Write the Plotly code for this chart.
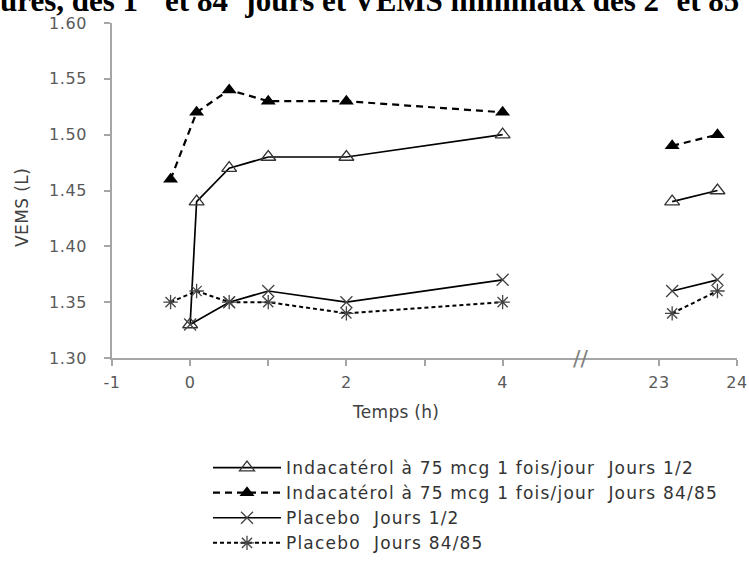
import plotly.graph_objects as go

# ---- data ----
time_early_ind12 = [0, 0.083, 0.5, 1, 2, 4]
fev1_ind12_early = [1.33, 1.44, 1.47, 1.48, 1.48, 1.50]
time_early_8485 = [-0.25, 0.083, 0.5, 1, 2, 4]
fev1_ind8485_early = [1.46, 1.52, 1.54, 1.53, 1.53, 1.52]
time_early_pla12 = [0, 0.5, 1, 2, 4]
fev1_pla12_early = [1.33, 1.35, 1.36, 1.35, 1.37]
fev1_pla8485_early = [1.35, 1.36, 1.35, 1.35, 1.34, 1.35]

time_late = [23.17, 23.75]
fev1_ind12_late = [1.44, 1.45]
fev1_ind8485_late = [1.49, 1.50]
fev1_pla12_late = [1.36, 1.37]
fev1_pla8485_late = [1.34, 1.36]

series_names = [
    "Indacatérol à 75 mcg 1 fois/jour  Jours 1/2",
    "Indacatérol à 75 mcg 1 fois/jour  Jours 84/85",
    "Placebo  Jours 1/2",
    "Placebo  Jours 84/85",
]
xticks_early = [-1, 0, 1, 2, 3, 4]
xticklabels_early = ["-1", "0", "", "2", "", "4"]
xticks_late = [23, 24]
xticklabels_late = ["23", "24"]
yticks = [1.30, 1.35, 1.40, 1.45, 1.50, 1.55, 1.60]
yticklabels = ["1.30", "1.35", "1.40", "1.45", "1.50", "1.55", "1.60"]

title_text = ("ures, des 1<sup>er</sup> et 84<sup>e</sup> jours et VEMS minimaux "
              "des 2<sup>e</sup> et 85<sup>e</sup> jours")


def spaced(s, ls):
    return s if s == "" else f'<span style="letter-spacing:{ls}px">{s}</span>'


# ---- styles ----
styles = [
    dict(line=dict(color="black", width=1.7, dash="solid"),
         marker=dict(symbol="triangle-up-open", size=13, color="#333333",
                     line=dict(width=1.3, color="#333333"))),
    dict(line=dict(color="black", width=2.2, dash="7px,5px"),
         marker=dict(symbol="triangle-up", size=13, color="black")),
    dict(line=dict(color="black", width=1.7, dash="solid"),
         marker=dict(symbol="x-thin-open", size=12, color="#444444",
                     line=dict(width=1.3, color="#444444"))),
    dict(line=dict(color="black", width=2, dash="4px,3px"),
         marker=dict(symbol="asterisk-open", size=12, color="#444444",
                     line=dict(width=1.3, color="#444444"))),
]

early = [
    (time_early_ind12, fev1_ind12_early),
    (time_early_8485, fev1_ind8485_early),
    (time_early_pla12, fev1_pla12_early),
    (time_early_8485, fev1_pla8485_early),
]
late = [fev1_ind12_late, fev1_ind8485_late, fev1_pla12_late, fev1_pla8485_late]

fig = go.Figure()
for i, name in enumerate(series_names):
    tx, ty = early[i]
    fig.add_trace(go.Scatter(x=tx, y=ty, mode="lines+markers", name=spaced(name, 1.2),
                             legendgroup=name, xaxis="x", yaxis="y", **styles[i]))
for i, name in enumerate(series_names):
    fig.add_trace(go.Scatter(x=time_late, y=late[i], mode="lines+markers", name=name,
                             legendgroup=name, showlegend=False,
                             xaxis="x2", yaxis="y", **styles[i]))

axis_col = "#A6A6A6"
tick_font = dict(family="DejaVu Sans", size=16, color="#595959")
xaxis_common = dict(showline=True, linecolor=axis_col, linewidth=1.5,
                    ticks="outside", ticklen=6, tickcolor=axis_col, tickwidth=1.5,
                    showgrid=False, zeroline=False, tickfont=tick_font, anchor="y",
                    ticklabelstandoff=3, automargin=False)

fig.update_layout(
    width=749, height=563,
    margin=dict(l=112, r=12, t=23, b=205, autoexpand=False),
    paper_bgcolor="white", plot_bgcolor="white",
    showlegend=True,
    xaxis=dict(domain=[0, 0.75], range=[-1, 5], tickmode="array",
               tickvals=xticks_early,
               ticktext=[spaced(t, 0.5) for t in xticklabels_early], **xaxis_common),
    xaxis2=dict(domain=[0.75, 1], range=[22, 24], tickmode="array",
                tickvals=xticks_late,
                ticktext=[spaced(t, 0.5) for t in xticklabels_late], **xaxis_common),
    yaxis=dict(range=[1.30, 1.60], tickmode="array", tickvals=yticks,
               ticktext=[spaced(t, 0.6) for t in yticklabels],
               showline=True, linecolor=axis_col, linewidth=1.5,
               ticks="outside", ticklen=6, tickcolor=axis_col, tickwidth=1.5,
               showgrid=False, zeroline=False, tickfont=tick_font,
               ticklabelstandoff=14, automargin=False),
    legend=dict(x=(208 - 112) / 625, y=-(450 - 358) / 335, xanchor="left", yanchor="top",
                font=dict(family="DejaVu Sans", size=17, color="#333333"),
                itemwidth=68, tracegroupgap=0, bgcolor="rgba(0,0,0,0)"),
    annotations=[
        dict(text=spaced("VEMS (L)", 0.4), xref="paper", yref="paper",
             x=(22 - 112) / 625, y=(358 - 208) / 335, textangle=-90,
             showarrow=False, xanchor="center", yanchor="middle",
             font=dict(family="DejaVu Sans", size=17, color="#404040")),
        dict(text=spaced("Temps (h)", 0.3), xref="paper", yref="paper", x=(395 - 112) / 625,
             y=-(412 - 358) / 335, showarrow=False, xanchor="center", yanchor="middle",
             font=dict(family="DejaVu Sans", size=17, color="#404040")),
        dict(text="//", xref="paper", yref="paper", x=0.75, y=0, showarrow=False,
             xanchor="center", yanchor="middle",
             font=dict(family="DejaVu Sans", size=22, color="#7f7f7f")),
        dict(text="<b>" + title_text + "</b>", xref="paper", yref="paper",
             x=-114.5 / 625, y=1 + 3 / 335, xanchor="left", yanchor="bottom",
             showarrow=False,
             font=dict(family="Liberation Serif, Times New Roman", size=31, color="black")),
    ],
)

fig.write_html("out.html", config={"displayModeBar": False},
               post_script="document.body.style.margin='0';")
